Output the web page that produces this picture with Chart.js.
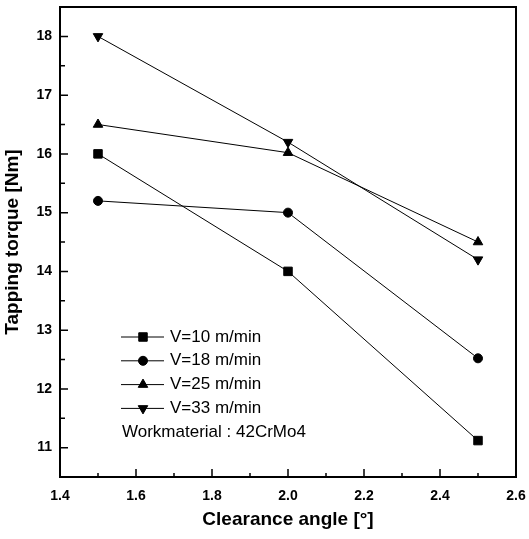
<!DOCTYPE html>
<html lang="en">
<head>
<meta charset="UTF-8">
<title>Tapping torque vs clearance angle</title>
<script src="https://cdn.jsdelivr.net/npm/chart.js"></script>
<style>
  html, body { margin: 0; padding: 0; background: #ffffff; }
</style>
</head>
<body>
<canvas id="grafico" width="529" height="539"></canvas>
<script>
  // clearance angle [deg]
  const angles = [1.5, 2.0, 2.5];
  // tapping torque [Nm] per cutting speed
  const v10 = [16.0, 14.0, 11.12];
  const v18 = [15.2, 15.0, 12.52];
  const v25 = [16.5, 16.02, 14.5];
  const v33 = [18.0, 16.2, 14.2];

  const seriesNames = ['V=10 m/min', 'V=18 m/min', 'V=25 m/min', 'V=33 m/min'];
  const noteText = 'Workmaterial : 42CrMo4';

  const xTicks = [1.4, 1.6, 1.8, 2.0, 2.2, 2.4, 2.6];
  const xMinor = [1.5, 1.7, 1.9, 2.1, 2.3, 2.5];
  const yTicks = [11, 12, 13, 14, 15, 16, 17, 18];
  const yMinor = [10.5, 11.5, 12.5, 13.5, 14.5, 15.5, 16.5, 17.5];

  const FONT = "'Liberation Sans', Arial, sans-serif";

  function pts(vals) {
    return angles.map((a, i) => ({ x: a, y: vals[i] }));
  }

  function serie(label, vals, style, rot, r) {
    return {
      label: label,
      data: pts(vals),
      borderColor: '#000',
      backgroundColor: '#000',
      borderWidth: 1,
      pointStyle: style,
      pointRotation: rot,
      pointRadius: r,
      pointBorderWidth: 1,
      tension: 0
    };
  }

  // frame + inward ticks
  const moldura = {
    id: 'moldura',
    afterDraw(chart) {
      const ctx = chart.ctx;
      const a = chart.chartArea;
      const sx = chart.scales.x, sy = chart.scales.y;
      ctx.save();
      ctx.strokeStyle = '#000';
      ctx.lineWidth = 2;
      ctx.strokeRect(a.left, a.top, a.right - a.left, a.bottom - a.top);
      ctx.lineWidth = 1.5;
      ctx.beginPath();
      xTicks.forEach(v => { const p = sx.getPixelForValue(v); ctx.moveTo(p, a.bottom); ctx.lineTo(p, a.bottom - 8); });
      xMinor.forEach(v => { const p = sx.getPixelForValue(v); ctx.moveTo(p, a.bottom); ctx.lineTo(p, a.bottom - 4); });
      yTicks.forEach(v => { const p = sy.getPixelForValue(v); ctx.moveTo(a.left, p); ctx.lineTo(a.left + 8, p); });
      yMinor.forEach(v => { const p = sy.getPixelForValue(v); ctx.moveTo(a.left, p); ctx.lineTo(a.left + 5, p); });
      ctx.stroke();
      ctx.restore();
    }
  };

  // legend drawn inside the plot area
  const legenda = {
    id: 'legenda',
    afterDraw(chart) {
      const ctx = chart.ctx;
      const a = chart.chartArea;
      const x0 = a.left + 61;
      const y0 = 337;
      const gap = 23.8;
      ctx.save();
      ctx.fillStyle = '#000';
      ctx.strokeStyle = '#000';
      ctx.font = '17px ' + FONT;
      ctx.textBaseline = 'middle';
      chart.data.datasets.forEach((ds, i) => {
        const y = y0 + i * gap;
        ctx.lineWidth = 1;
        ctx.beginPath();
        ctx.moveTo(x0, y);
        ctx.lineTo(x0 + 43, y);
        ctx.stroke();
        Chart.helpers.drawPoint(ctx, {
          pointStyle: ds.pointStyle,
          rotation: ds.pointRotation || 0,
          radius: ds.pointRadius,
          borderWidth: 1
        }, x0 + 22, y);
        ctx.fillText(ds.label, x0 + 49, y);
      });
      ctx.fillText(noteText, x0 + 1, y0 + 4 * gap);
      ctx.restore();
    }
  };

  const ctx = document.getElementById('grafico').getContext('2d');

  new Chart(ctx, {
    type: 'line',
    data: {
      datasets: [
        serie(seriesNames[0], v10, 'rect', 0, 6),
        serie(seriesNames[1], v18, 'circle', 0, 4.5),
        serie(seriesNames[2], v25, 'triangle', 0, 5.5),
        serie(seriesNames[3], v33, 'triangle', 180, 5.5)
      ]
    },
    options: {
      responsive: false,
      animation: false,
      devicePixelRatio: 1,
      layout: { padding: { top: 5, right: 13, left: 0, bottom: 0 } },
      plugins: {
        legend: { display: false },
        tooltip: { enabled: false }
      },
      scales: {
        x: {
          type: 'linear',
          min: 1.4,
          max: 2.6,
          grid: { display: false, drawTicks: false },
          border: { display: false },
          afterBuildTicks: s => { s.ticks = xTicks.map(v => ({ value: v })); },
          afterFit: s => { s.height = 62; s.paddingLeft = 0; s.paddingRight = 0; },
          ticks: {
            padding: 11,
            color: '#000',
            font: { family: FONT, size: 14, weight: 'bold' },
            callback: v => v.toFixed(1),
            maxRotation: 0
          },
          title: {
            display: true,
            text: 'Clearance angle [°]',
            color: '#000',
            font: { family: FONT, size: 19, weight: 'bold' },
            padding: { top: 0, bottom: 8 }
          }
        },
        y: {
          type: 'linear',
          min: 10.5,
          max: 18.5,
          grid: { display: false, drawTicks: false },
          border: { display: false },
          afterBuildTicks: s => { s.ticks = yTicks.map(v => ({ value: v })); },
          afterFit: s => { s.width = 60; s.paddingTop = 0; s.paddingBottom = 0; },
          ticks: {
            padding: 8,
            color: '#000',
            font: { family: FONT, size: 14, weight: 'bold' }
          },
          title: {
            display: true,
            text: 'Tapping torque [Nm]',
            color: '#000',
            font: { family: FONT, size: 19, weight: 'bold' },
            padding: { top: 1, bottom: 0 }
          }
        }
      }
    },
    plugins: [moldura, legenda]
  });
</script>
</body>
</html>
